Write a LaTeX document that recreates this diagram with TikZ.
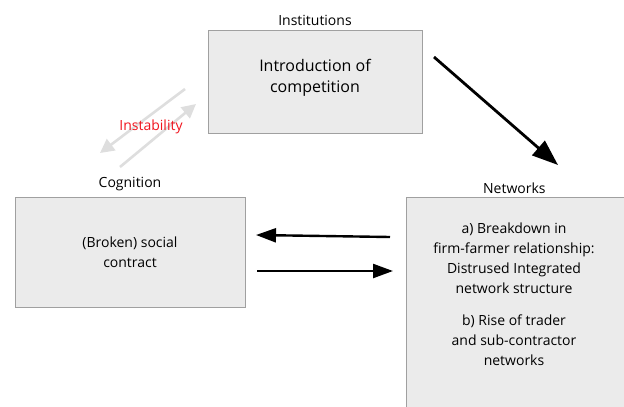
\documentclass[tikz,border=0pt]{standalone}
\usepackage{fontspec}
\setmainfont{Open Sans}
\usetikzlibrary{arrows.meta, positioning, calc}
\definecolor{boxgray}{RGB}{235, 235, 235}
\definecolor{linegray}{RGB}{160, 160, 160}
\definecolor{ghostgray}{RGB}{222, 222, 222}
\definecolor{alertred}{RGB}{240, 20, 30}

\begin{document}
\begin{tikzpicture}[
    x=1pt, y=-1pt,
    box/.style={rectangle, draw=linegray, fill=boxgray, line width=0.8pt, align=center, font=\fontsize{14}{20}\selectfont},
    title/.style={font=\fontsize{14}{16}\selectfont, inner sep=0pt},
    arrow/.style={-{Triangle[length=20pt, width=14pt]}, line width=2.4pt, black},
    ghost/.style={-{Triangle[length=14pt, width=14pt]}, line width=2.6pt, ghostgray}
]
    \useasboundingbox (0,0) rectangle (624,407);
    \clip (0,0) rectangle (624,407);

    % Boxes
    \node[box, minimum width=214pt, minimum height=103pt, text height=26pt, font=\fontsize{16}{21}\selectfont] (inst) at (315,81.5) {Introduction of\\competition};
    \node[box, minimum width=230pt, minimum height=110pt] (cog) at (130,252) {(Broken) social\\contract};
    \node[box, minimum width=230pt, minimum height=230pt, anchor=north west] (net) at (406,197) {};
    \node[align=center, font=\fontsize{14}{20}\selectfont, inner sep=0pt] (nettext) at (514,294)
        {a) Breakdown in\\firm-farmer relationship:\\Distrused Integrated\\network structure\\[12pt]b) Rise of trader\\and sub-contractor\\networks};

    % Titles
    \node[title, above=4pt of inst] (insttitle) {Institutions};
    \node[title, above=6pt of cog] (cogtitle) {Cognition};
    \node[title, above=3pt of net.north, xshift=-7pt] (nettitle) {Networks};

    % Arrows
    \coordinate (a1) at (434,57);
    \coordinate (a2) at (558,165);
    \draw[arrow, -{Triangle[length=26pt, width=19pt]}, line width=2.8pt] (a1) -- (a2);
    \coordinate (b1) at (390,237);
    \coordinate (b2) at (256,235);
    \draw[arrow] (b1) -- (b2);
    \coordinate (c1) at (257,271);
    \coordinate (c2) at (393,271);
    \draw[arrow] (c1) -- (c2);

    % Instability
    \coordinate (g1) at (185,89);
    \coordinate (g2) at (100,153);
    \coordinate (g3) at (120,167);
    \coordinate (g4) at (196,104);
    \draw[ghost] (g1) -- (g2);
    \draw[ghost] (g3) -- (g4);
    \node[font=\fontsize{14}{16}\selectfont, text=alertred] (instab) at (151,127) {Instability};

\end{tikzpicture}
\end{document}
